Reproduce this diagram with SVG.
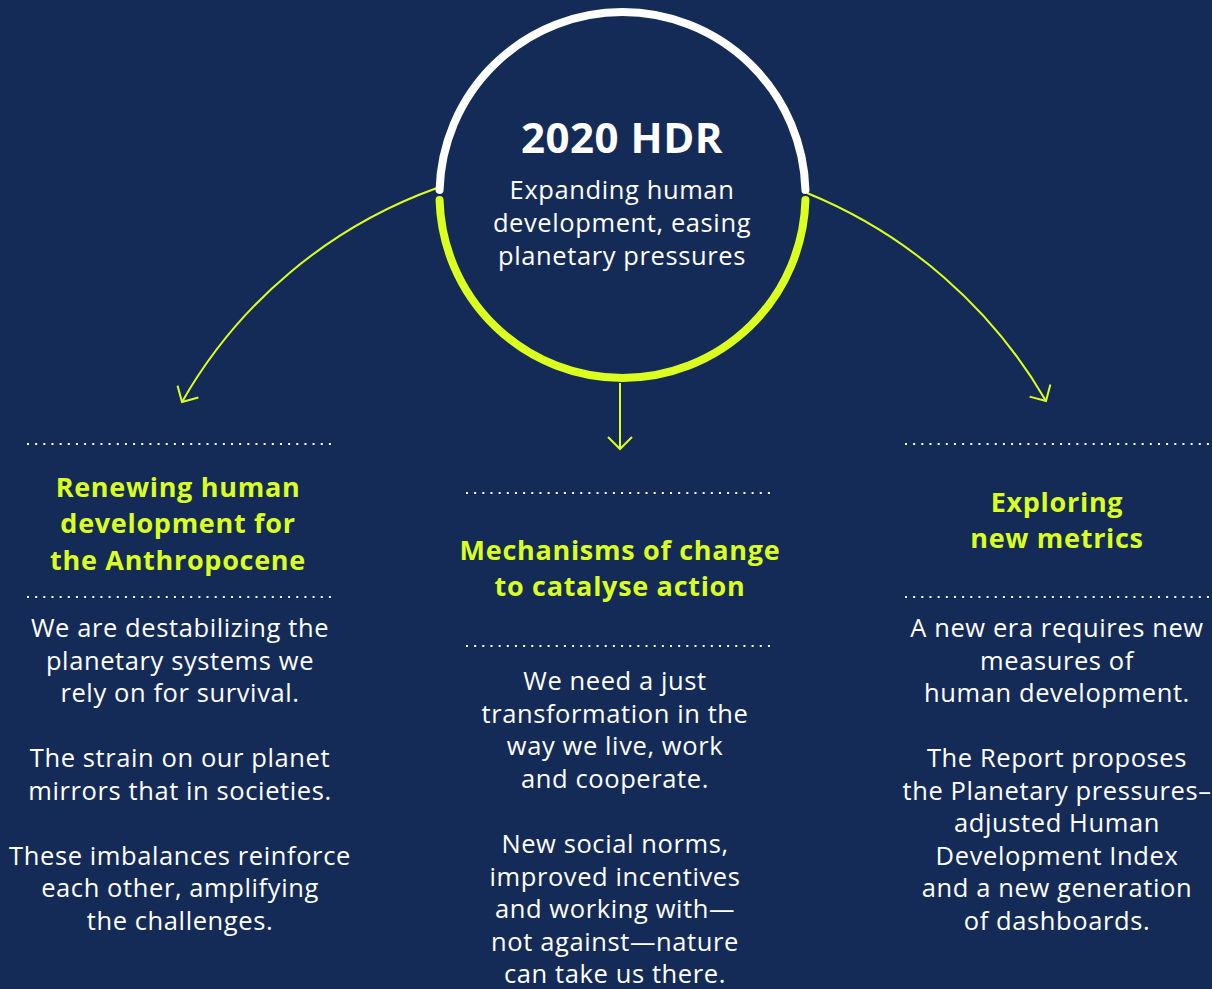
<svg xmlns="http://www.w3.org/2000/svg" width="1212" height="989" viewBox="0 0 1212 989">
  <style>
    .body { font-family: "Open Sans", "Liberation Sans", sans-serif; font-size: 25.5px; letter-spacing: 0.6px; fill: #ffffff; text-anchor: middle; }
    .title { font-family: "Open Sans", "Liberation Sans", sans-serif; font-size: 27px; letter-spacing: 0.7px; font-weight: 700; fill: #dbff1f; text-anchor: middle; }
    .hdr { font-family: "Open Sans", "Liberation Sans", sans-serif; font-size: 42px; letter-spacing: 0.5px; font-weight: 700; fill: #ffffff; text-anchor: middle; }
    .sub { font-family: "Open Sans", "Liberation Sans", sans-serif; font-size: 25.5px; letter-spacing: 0.6px; fill: #ffffff; text-anchor: middle; }
    .dots { stroke: #ffffff; stroke-width: 2; stroke-dasharray: 2 6.16; fill: none; }
    .conn { stroke: #dbff1f; stroke-width: 2; fill: none; }
  </style>
  <defs>
    <marker id="arrow" markerUnits="userSpaceOnUse" markerWidth="30" markerHeight="30" viewBox="-15 -15 30 30" refX="0" refY="0" orient="auto">
      <path d="M-12,-12 L0,0 L-12,12" fill="none" stroke="#dbff1f" stroke-width="2"/>
    </marker>
  </defs>
  <rect x="0" y="0" width="1212" height="989" fill="#152b57"/>

  <g id="connectors">
    <path class="conn" d="M437,188 A480,480 0 0 0 182,402" marker-end="url(#arrow)"/>
    <path class="conn" d="M620,383 L620,449" marker-end="url(#arrow)"/>
    <path class="conn" d="M807,193 A490,490 0 0 1 1046,401" marker-end="url(#arrow)"/>
  </g>

  <g id="hub">
    <path d="M439.57,190 A183,183 0 0 1 805.43,190" fill="none" stroke="#ffffff" stroke-width="8" stroke-linecap="round"/>
    <path d="M439.57,200 A183,183 0 0 0 805.43,200" fill="none" stroke="#dbff1f" stroke-width="8" stroke-linecap="round"/>
    <text class="hdr" x="622" y="153">2020 HDR</text>
    <text class="sub" x="622" y="199">Expanding human</text>
    <text class="sub" x="622" y="232">development, easing</text>
    <text class="sub" x="622" y="265">planetary pressures</text>
  </g>

  <g id="renewing">
    <line class="dots" x1="27" y1="444" x2="331" y2="444"/>
    <line class="dots" x1="27" y1="597" x2="331" y2="597"/>
    <text class="title" x="178" y="497">Renewing human</text>
    <text class="title" x="178" y="533">development for</text>
    <text class="title" x="178" y="570">the Anthropocene</text>
    <text class="body" x="180" y="637">We are destabilizing the</text>
    <text class="body" x="180" y="670">planetary systems we</text>
    <text class="body" x="180" y="702">rely on for survival.</text>
    <text class="body" x="180" y="767">The strain on our planet</text>
    <text class="body" x="180" y="800">mirrors that in societies.</text>
    <text class="body" x="180" y="865">These imbalances reinforce</text>
    <text class="body" x="180" y="897">each other, amplifying</text>
    <text class="body" x="180" y="930">the challenges.</text>
  </g>

  <g id="mechanisms">
    <line class="dots" x1="466" y1="493" x2="770" y2="493"/>
    <line class="dots" x1="466" y1="646" x2="770" y2="646"/>
    <text class="title" x="620" y="560">Mechanisms of change</text>
    <text class="title" x="620" y="596">to catalyse action</text>
    <text class="body" x="615" y="690">We need a just</text>
    <text class="body" x="615" y="723">transformation in the</text>
    <text class="body" x="615" y="755">way we live, work</text>
    <text class="body" x="615" y="788">and cooperate.</text>
    <text class="body" x="615" y="853">New social norms,</text>
    <text class="body" x="615" y="886">improved incentives</text>
    <text class="body" x="615" y="918">and working with—</text>
    <text class="body" x="615" y="951">not against—nature</text>
    <text class="body" x="615" y="983">can take us there.</text>
  </g>

  <g id="metrics">
    <line class="dots" x1="905" y1="444" x2="1210" y2="444"/>
    <line class="dots" x1="905" y1="597" x2="1210" y2="597"/>
    <text class="title" x="1057" y="512">Exploring</text>
    <text class="title" x="1057" y="548">new metrics</text>
    <text class="body" x="1057" y="637">A new era requires new</text>
    <text class="body" x="1057" y="670">measures of</text>
    <text class="body" x="1057" y="702">human development.</text>
    <text class="body" x="1057" y="767">The Report proposes</text>
    <text class="body" x="1057" y="800">the Planetary pressures–</text>
    <text class="body" x="1057" y="832">adjusted Human</text>
    <text class="body" x="1057" y="865">Development Index</text>
    <text class="body" x="1057" y="897">and a new generation</text>
    <text class="body" x="1057" y="930">of dashboards.</text>
  </g>
</svg>
